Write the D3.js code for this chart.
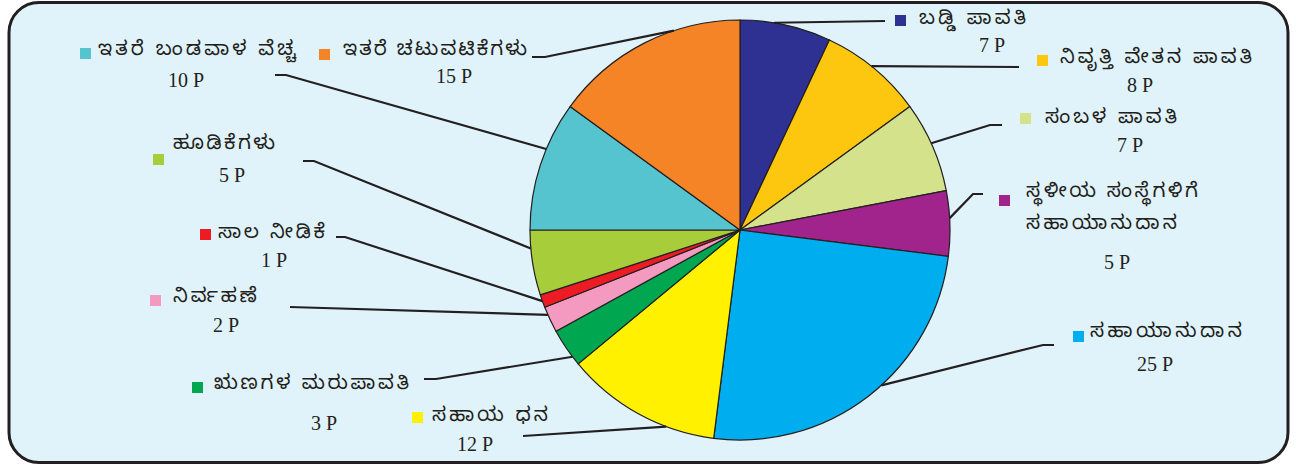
<!DOCTYPE html>
<html>
<head>
<meta charset="utf-8">
<script src="https://cdn.jsdelivr.net/npm/d3@7"></script>
<style>
  html, body { margin: 0; padding: 0; background: #ffffff; }
  svg { display: block; }
  .kn { font-family: "Noto Sans Kannada", "Noto Serif Kannada", "Tunga", "Lohit Kannada", "Noto Sans", sans-serif; font-size: 20px; fill: #231f20; }
  .num { font-family: "Liberation Serif", "Times New Roman", serif; font-size: 20px; fill: #231f20; }
</style>
</head>
<body>
<svg id="chart" width="1296" height="468"></svg>
<script>
// ---- data ----
const categories = [
  ["ಬಡ್ಡಿ ಪಾವತಿ"],
  ["ನಿವೃತ್ತಿ ವೇತನ ಪಾವತಿ"],
  ["ಸಂಬಳ ಪಾವತಿ"],
  ["ಸ್ಥಳೀಯ ಸಂಸ್ಥೆಗಳಿಗೆ", "ಸಹಾಯಾನುದಾನ"],
  ["ಸಹಾಯಾನುದಾನ"],
  ["ಸಹಾಯ ಧನ"],
  ["ಋಣಗಳ ಮರುಪಾವತಿ"],
  ["ನಿರ್ವಹಣೆ"],
  ["ಸಾಲ ನೀಡಿಕೆ"],
  ["ಹೂಡಿಕೆಗಳು"],
  ["ಇತರೆ ಬಂಡವಾಳ ವೆಚ್ಚ"],
  ["ಇತರೆ ಚಟುವಟಿಕೆಗಳು"]
];
const values = [7, 8, 7, 5, 25, 12, 3, 2, 1, 5, 10, 15];
const valueLabels = ["7 P", "8 P", "7 P", "5 P", "25 P", "12 P", "3 P", "2 P", "1 P", "5 P", "10 P", "15 P"];
const colors = ["#2e3192", "#fdc70f", "#d4e38b", "#a1238c", "#00adee", "#fff100",
                "#00a650", "#f49ac1", "#ed1c24", "#a8cd3a", "#55c4cf", "#f58426"];

// ---- layout (positions only) ----
const layout = [
  {anchor: 0.37, pts: [[885, 21]], sq: [895, 15], tx: 919, ty: [21], tw: [107], nx: 992, ny: 52},
  {anchor: 0.47, pts: [[1019, 67]], sq: [1037, 55], tx: 1060, ty: [60], tw: [192], nx: 1140, ny: 92},
  {anchor: 0.46, pts: [[990, 125], [1002, 125]], sq: [1020, 113], tx: 1045, ty: [120], tw: [132], nx: 1130, ny: 152},
  {anchor: 0.42, pts: [[973, 194], [983, 194]], sq: [999, 195], tx: 1026, ty: [194, 226], tw: [172, 151], nx: 1117, ny: 269},
  {anchor: 0.45, pts: [[1043, 345], [1054, 345]], sq: [1073, 331], tx: 1090, ty: [334], tw: [152], nx: 1155, ny: 371},
  {anchor: 0.31, pts: [[523, 436]], sq: [412, 412], tx: 432, ty: [418], tw: [116], nx: 475, ny: 451},
  {anchor: 0.23, pts: [[436, 379], [424, 379]], sq: [192, 382], tx: 214, ty: [386], tw: [195], nx: 324, ny: 430},
  {anchor: 0.69, pts: [[290, 307]], sq: [150, 295], tx: 173, ty: [299], tw: [84], nx: 226, ny: 332},
  {anchor: 0.5, pts: [[345, 237], [336, 237]], sq: [200, 229], tx: 218, ty: [235], tw: [107], nx: 274, ny: 267},
  {anchor: 0.72, pts: [[314, 161], [303, 161]], sq: [153, 154], tx: 173, ty: [146], tw: [102], nx: 232, ny: 182},
  {anchor: 0.63, pts: [[286, 75], [275, 75]], sq: [80, 48], tx: 98, ty: [52], tw: [198], nx: 186, ny: 87},
  {anchor: 0.66, pts: [[545, 57], [532, 57]], sq: [319, 49], tx: 343, ty: [52], tw: [184], nx: 454, ny: 83}
];

const svg = d3.select("#chart");

// frame
svg.append("rect")
  .attr("x", 9).attr("y", 2.5).attr("width", 1279).attr("height", 460)
  .attr("rx", 30).attr("ry", 30)
  .attr("fill", "#e1f3fa").attr("stroke", "#231f20").attr("stroke-width", 3);

const cx = 740, cy = 230, r = 210;
const pie = d3.pie().sort(null).value(d => d)(values);
const arc = d3.arc().innerRadius(0).outerRadius(r);

const g = svg.append("g").attr("transform", `translate(${cx},${cy})`);
g.selectAll("path.slice").data(pie).join("path")
  .attr("class", "slice")
  .attr("d", arc)
  .attr("fill", (d, i) => colors[i])
  .attr("stroke", "#231f20").attr("stroke-width", 1.2).attr("stroke-linejoin", "round");

// leader lines
const line = d3.line();
pie.forEach((d, i) => {
  const L = layout[i];
  const a = d.startAngle + (d.endAngle - d.startAngle) * L.anchor;
  const start = [cx + r * Math.sin(a), cy - r * Math.cos(a)];
  svg.append("path")
    .attr("d", line([start, ...L.pts]))
    .attr("fill", "none").attr("stroke", "#231f20").attr("stroke-width", 2.2)
    .attr("stroke-linejoin", "miter");
});

// labels
categories.forEach((lines, i) => {
  const L = layout[i];
  svg.append("rect")
    .attr("x", L.sq[0]).attr("y", L.sq[1]).attr("width", 11).attr("height", 11)
    .attr("fill", colors[i]);
  lines.forEach((t, k) => {
    svg.append("text").attr("class", "kn")
      .attr("x", L.tx).attr("y", L.ty[k])
      .attr("dominant-baseline", "central")
      .attr("textLength", L.tw[k]).attr("lengthAdjust", "spacing")
      .text(t);
  });
  svg.append("text").attr("class", "num")
    .attr("x", L.nx).attr("y", L.ny).attr("text-anchor", "middle")
    .text(valueLabels[i]);
});
</script>
</body>
</html>
